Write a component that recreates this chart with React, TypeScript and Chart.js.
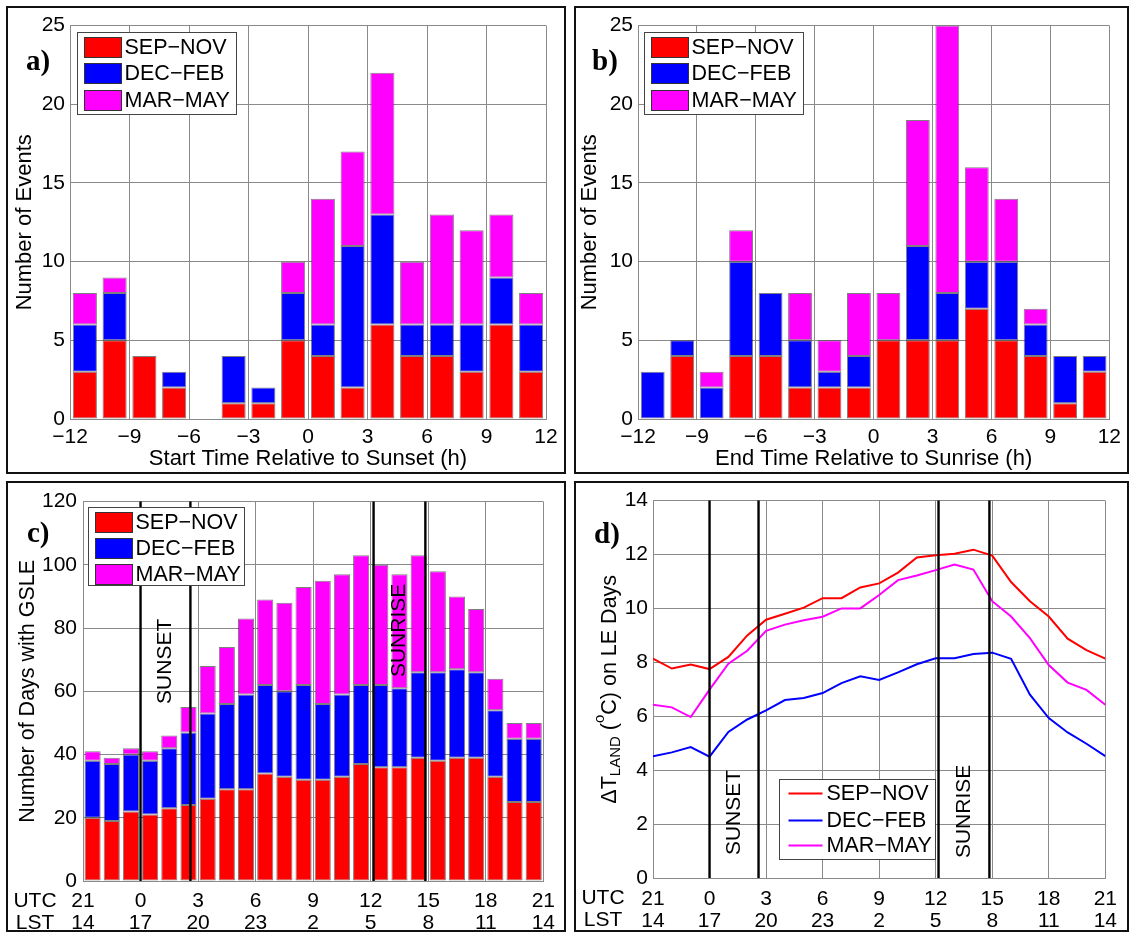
import React, { useEffect, useRef } from 'react';
import { Chart, registerables } from 'chart.js';

Chart.register(...registerables);

const FONT = "'Liberation Sans', Arial, Helvetica, sans-serif";
const SERIF = "'Liberation Serif', 'Times New Roman', serif";
const GRID = '#8a8a8a';

Chart.defaults.font.family = FONT;
Chart.defaults.color = '#000';

// ---- seasons ----
const seasons = ['SEP\u2212NOV', 'DEC\u2212FEB', 'MAR\u2212MAY'];
const seasonColors = ['#ff0000', '#0000ff', '#ff00ff'];

// ---- (a) start time relative to sunset, 1.5 h bins ----
const relBins = [-11.25, -9.75, -8.25, -6.75, -5.25, -3.75, -2.25, -0.75, 0.75, 2.25, 3.75, 5.25, 6.75, 8.25, 9.75, 11.25];
const startSepNov = [3, 5, 4, 2, 0, 1, 1, 5, 4, 2, 6, 4, 4, 3, 6, 3];
const startDecFeb = [3, 3, 0, 1, 0, 3, 1, 3, 2, 9, 7, 2, 2, 3, 3, 3];
const startMarMay = [2, 1, 0, 0, 0, 0, 0, 2, 8, 6, 9, 4, 7, 6, 4, 2];

// ---- (b) end time relative to sunrise ----
const endSepNov = [0, 4, 0, 4, 4, 2, 2, 2, 5, 5, 5, 7, 5, 4, 1, 3];
const endDecFeb = [3, 1, 2, 6, 4, 3, 1, 2, 0, 6, 3, 3, 5, 2, 3, 1];
const endMarMay = [0, 0, 1, 2, 0, 3, 2, 4, 3, 8, 17, 6, 4, 1, 0, 0];

const relTickLabels = ['\u221212', '\u22129', '\u22126', '\u22123', '0', '3', '6', '9', '12'];

// ---- (c) days with GSLE, hourly bins starting 21 UTC ----
const hourBins = [0.5, 1.5, 2.5, 3.5, 4.5, 5.5, 6.5, 7.5, 8.5, 9.5, 10.5, 11.5, 12.5, 13.5, 14.5, 15.5, 16.5, 17.5, 18.5, 19.5, 20.5, 21.5, 22.5, 23.5];
const gsleSepNov = [20, 19, 22, 21, 23, 24, 26, 29, 29, 34, 33, 32, 32, 33, 37, 36, 36, 39, 38, 39, 39, 33, 25, 25];
const gsleDecFeb = [18, 18, 18, 17, 19, 23, 27, 27, 30, 28, 27, 30, 24, 26, 25, 26, 25, 27, 28, 28, 27, 21, 20, 20];
const gsleMarMay = [3, 2, 2, 3, 4, 8, 15, 18, 24, 27, 28, 31, 39, 38, 41, 38, 36, 37, 32, 23, 20, 10, 5, 5];

// ---- (d) land temperature difference on LE days ----
const hours = [0, 1, 2, 3, 4, 5, 6, 7, 8, 9, 10, 11, 12, 13, 14, 15, 16, 17, 18, 19, 20, 21, 22, 23, 24];
const dtSepNov = [8.14, 7.77, 7.92, 7.75, 8.2, 9.0, 9.58, 9.8, 10.03, 10.38, 10.38, 10.78, 10.93, 11.33, 11.89, 11.97, 12.03, 12.18, 11.96, 10.98, 10.27, 9.7, 8.88, 8.45, 8.14];
const dtDecFeb = [4.52, 4.66, 4.86, 4.5, 5.42, 5.88, 6.22, 6.6, 6.68, 6.86, 7.23, 7.48, 7.35, 7.63, 7.93, 8.15, 8.15, 8.31, 8.36, 8.13, 6.8, 5.93, 5.4, 4.98, 4.52];
const dtMarMay = [6.43, 6.33, 5.97, 6.99, 7.95, 8.43, 9.17, 9.4, 9.56, 9.69, 10.0, 10.0, 10.5, 11.05, 11.22, 11.42, 11.63, 11.44, 10.27, 9.7, 8.9, 7.9, 7.25, 6.98, 6.43];

// ---- clock labels for (c) and (d) ----
const utcLabels = ['21', '0', '3', '6', '9', '12', '15', '18', '21'];
const lstLabels = ['14', '17', '20', '23', '2', '5', '8', '11', '14'];

// sunset / sunrise time markers (hours since 21 UTC)
const sunMarkers = [3.0, 5.6, 15.15, 17.85];

type Caption = { text: string; x: number; y: number };
type Decor = {
  letter: string;
  letterX: number;
  letterY: number;
  legendKind: 'box' | 'line';
  legendDx: number;
  legendDy: number;
  legendW: number;
  legendH: number;
  legendRows: number[];
  legendTextX: number;
  markers?: number[];
  captions?: Caption[];
  clockRows?: boolean;
  richTitle?: boolean;
};

function makeDecor(d: Decor) {
  return {
    id: 'decor',
    afterDatasetsDraw(chart: any) {
      const { ctx, chartArea } = chart;
      const xs = chart.scales.x;
      const ys = chart.scales.y;
      ctx.save();

      // sunset / sunrise lines
      if (d.markers) {
        ctx.strokeStyle = '#000';
        ctx.lineWidth = 2.4;
        for (const v of d.markers) {
          const px = xs.getPixelForValue(v);
          ctx.beginPath();
          ctx.moveTo(px, chartArea.top);
          ctx.lineTo(px, chartArea.bottom);
          ctx.stroke();
        }
      }

      // rotated SUNSET / SUNRISE captions
      ctx.fillStyle = '#000';
      ctx.font = `21px ${FONT}`;
      for (const c of d.captions || []) {
        ctx.save();
        ctx.translate(xs.getPixelForValue(c.x), ys.getPixelForValue(c.y));
        ctx.rotate(-Math.PI / 2);
        ctx.textAlign = 'left';
        ctx.textBaseline = 'middle';
        ctx.fillText(c.text, 0, 0);
        ctx.restore();
      }

      // legend
      const bx = Math.round(chartArea.left + d.legendDx) + 0.5;
      const by = Math.round(chartArea.top + d.legendDy) + 0.5;
      ctx.fillStyle = '#fff';
      ctx.fillRect(bx, by, d.legendW, d.legendH);
      ctx.strokeStyle = '#444';
      ctx.lineWidth = 1;
      ctx.strokeRect(bx, by, d.legendW, d.legendH);
      ctx.font = `21.5px ${FONT}`;
      ctx.textAlign = 'left';
      ctx.textBaseline = 'middle';
      seasons.forEach((name, i) => {
        const cy = by + d.legendRows[i];
        if (d.legendKind === 'box') {
          ctx.fillStyle = seasonColors[i];
          ctx.fillRect(bx + 7, cy - 10, 37, 20);
          ctx.strokeStyle = '#333';
          ctx.lineWidth = 1;
          ctx.strokeRect(bx + 7, cy - 10, 37, 20);
        } else {
          ctx.strokeStyle = seasonColors[i];
          ctx.lineWidth = 2;
          ctx.beginPath();
          ctx.moveTo(bx + 9, cy);
          ctx.lineTo(bx + 43, cy);
          ctx.stroke();
        }
        ctx.fillStyle = '#000';
        ctx.fillText(name, bx + d.legendTextX, cy + 1);
      });

      // panel letter
      ctx.font = `bold 29px ${SERIF}`;
      ctx.textAlign = 'left';
      ctx.textBaseline = 'alphabetic';
      ctx.fillStyle = '#000';
      ctx.fillText(d.letter, d.letterX, d.letterY);

      // clock row names
      if (d.clockRows) {
        ctx.font = `21px ${FONT}`;
        ctx.textAlign = 'center';
        ctx.textBaseline = 'middle';
        ctx.fillText('UTC', 27, chartArea.bottom + 20);
        ctx.fillText('LST', 27, chartArea.bottom + 42);
      }

      // y title with subscript / superscript
      if (d.richTitle) {
        const parts = [
          { t: '\u0394T', size: 21.5, dy: 0 },
          { t: 'LAND', size: 15, dy: 4 },
          { t: ' (', size: 21.5, dy: 0 },
          { t: 'o', size: 15, dy: -12 },
          { t: 'C) on LE Days', size: 21.5, dy: 0 },
        ];
        let total = 0;
        for (const p of parts) {
          ctx.font = `${p.size}px ${FONT}`;
          total += ctx.measureText(p.t).width;
        }
        ctx.save();
        ctx.translate(40, (chartArea.top + chartArea.bottom) / 2);
        ctx.rotate(-Math.PI / 2);
        ctx.textAlign = 'left';
        ctx.textBaseline = 'alphabetic';
        let x = -total / 2;
        for (const p of parts) {
          ctx.font = `${p.size}px ${FONT}`;
          ctx.fillText(p.t, x, p.dy);
          x += ctx.measureText(p.t).width;
        }
        ctx.restore();
      }

      ctx.restore();
    },
  };
}

function barSets(bins: number[], series: number[][], pct: number) {
  return seasons.map((name, i) => ({
    label: name,
    data: bins.map((x, k) => ({ x, y: series[i][k] })),
    backgroundColor: seasonColors[i],
    borderColor: 'rgba(0,0,0,0.5)',
    borderWidth: 1,
    borderSkipped: false,
    categoryPercentage: 1,
    barPercentage: pct,
  }));
}

const gridOpts = { color: GRID, lineWidth: 1, drawTicks: false, offset: false };

function histogramConfig(series: number[][], xTitle: string, padRight: number, yTitlePad: number, decor: Decor): any {
  return {
    type: 'bar',
    data: { datasets: barSets(relBins, series, 0.81) },
    options: {
      animation: false,
      responsive: false,
      layout: { padding: { left: 0, top: 17, right: padRight, bottom: 0 }, autoPadding: false },
      plugins: { legend: { display: false }, tooltip: { enabled: false } },
      scales: {
        x: {
          type: 'linear',
          stacked: true,
          min: -12,
          max: 12,
          offset: false,
          grid: gridOpts,
          border: { color: GRID },
          ticks: { stepSize: 3, padding: 6, autoSkip: false, maxRotation: 0, font: { size: 21 }, callback: (_v: any, i: number) => relTickLabels[i] },
          title: { display: true, text: xTitle, font: { size: 22 }, padding: { top: 0, bottom: 0 } },
          afterFit: (s: any) => { s.height = 53; },
        },
        y: {
          stacked: true,
          min: 0,
          max: 25,
          grid: gridOpts,
          border: { color: GRID },
          ticks: { stepSize: 5, padding: 5, font: { size: 21 } },
          title: { display: true, text: 'Number of Events', font: { size: 22 }, padding: { top: yTitlePad, bottom: 0 } },
          afterFit: (s: any) => { s.width = 62; },
        },
      },
    },
    plugins: [makeDecor(decor)],
  };
}

const clockTicks = (pad: number) => ({
  stepSize: 3,
  padding: pad,
  autoSkip: false,
  maxRotation: 0,
  font: { size: 21, lineHeight: 1.05 },
  callback: (_v: any, i: number) => [utcLabels[i], lstLabels[i]],
});

function configA(): any {
  return histogramConfig([startSepNov, startDecFeb, startMarMay], 'Start Time Relative to Sunset (h)', 18, 4, {
    letter: 'a)', letterX: 18, letterY: 62,
    legendKind: 'box', legendDx: 7, legendDy: 6, legendW: 159, legendH: 82, legendRows: [15, 41, 68], legendTextX: 47,
  });
}

function configB(): any {
  return histogramConfig([endSepNov, endDecFeb, endMarMay], 'End Time Relative to Sunrise (h)', 14, 1, {
    letter: 'b)', letterX: 16, letterY: 62,
    legendKind: 'box', legendDx: 6, legendDy: 6, legendW: 159, legendH: 82, legendRows: [15, 41, 68], legendTextX: 47,
  });
}

function configC(): any {
  return {
    type: 'bar',
    data: { datasets: barSets(hourBins, [gsleSepNov, gsleDecFeb, gsleMarMay], 0.84) },
    options: {
      animation: false,
      responsive: false,
      layout: { padding: { left: 0, top: 15, right: 19, bottom: 0 }, autoPadding: false },
      plugins: { legend: { display: false }, tooltip: { enabled: false } },
      scales: {
        x: {
          type: 'linear',
          stacked: true,
          min: 0,
          max: 24,
          offset: false,
          grid: gridOpts,
          border: { color: GRID },
          ticks: clockTicks(9),
          afterFit: (s: any) => { s.height = 49; },
        },
        y: {
          stacked: true,
          min: 0,
          max: 120,
          grid: gridOpts,
          border: { color: GRID },
          ticks: { stepSize: 20, padding: 6, font: { size: 21 } },
          title: { display: true, text: 'Number of Days with GSLE', font: { size: 21.5 }, padding: { top: 7, bottom: 0 } },
          afterFit: (s: any) => { s.width = 75; },
        },
      },
    },
    plugins: [makeDecor({
      letter: 'c)', letterX: 19, letterY: 59,
      legendKind: 'box', legendDx: 5, legendDy: 5, legendW: 156, legendH: 78, legendRows: [15, 41, 67], legendTextX: 47,
      markers: sunMarkers,
      captions: [
        { text: 'SUNSET', x: 4.3, y: 56 },
        { text: 'SUNRISE', x: 16.5, y: 64.5 },
      ],
      clockRows: true,
    })],
  };
}

function configD(): any {
  const series = [dtSepNov, dtDecFeb, dtMarMay];
  return {
    type: 'line',
    data: {
      datasets: seasons.map((name, i) => ({
        label: name,
        data: hours.map((x, k) => ({ x, y: series[i][k] })),
        borderColor: seasonColors[i],
        borderWidth: 2,
        pointRadius: 0,
        tension: 0,
        fill: false,
      })),
    },
    options: {
      animation: false,
      responsive: false,
      layout: { padding: { left: 0, top: 15, right: 14, bottom: 0 }, autoPadding: false },
      plugins: { legend: { display: false }, tooltip: { enabled: false } },
      scales: {
        x: {
          type: 'linear',
          min: 0,
          max: 24,
          offset: false,
          grid: gridOpts,
          border: { color: GRID },
          ticks: clockTicks(10),
          afterFit: (s: any) => { s.height = 52; },
        },
        y: {
          min: 0,
          max: 14,
          grid: gridOpts,
          border: { color: GRID },
          ticks: { stepSize: 2, padding: 5, font: { size: 21 } },
          afterFit: (s: any) => { s.width = 77; },
        },
      },
    },
    plugins: [makeDecor({
      letter: 'd)', letterX: 18, letterY: 60,
      legendKind: 'line', legendDx: 126, legendDy: 278, legendW: 156, legendH: 80, legendRows: [14, 41, 66], legendTextX: 47,
      markers: sunMarkers,
      captions: [
        { text: 'SUNSET', x: 4.3, y: 0.85 },
        { text: 'SUNRISE', x: 16.5, y: 0.74 },
      ],
      clockRows: true,
      richTitle: true,
    })],
  };
}

function Panel(props: { left: number; top: number; width: number; height: number; build: () => any }) {
  const ref = useRef<HTMLCanvasElement>(null);
  const { left, top, width, height, build } = props;
  useEffect(() => {
    const chart = new Chart(ref.current as HTMLCanvasElement, build());
    return () => chart.destroy();
  }, []);
  return (
    <div
      style={{
        position: 'absolute',
        left,
        top,
        width,
        height,
        border: '2px solid #111',
        boxSizing: 'border-box',
        background: '#fff',
      }}
    >
      <canvas ref={ref} width={width - 4} height={height - 4} style={{ display: 'block', width: width - 4, height: height - 4 }} />
    </div>
  );
}

export default function App() {
  return (
    <div style={{ position: 'absolute', left: 0, top: 0, width: 1130, height: 933, background: '#fff' }}>
      <Panel left={6} top={6} width={560} height={468} build={configA} />
      <Panel left={574} top={6} width={555} height={468} build={configB} />
      <Panel left={6} top={481} width={560} height={451} build={configC} />
      <Panel left={574} top={481} width={555} height={451} build={configD} />
    </div>
  );
}
